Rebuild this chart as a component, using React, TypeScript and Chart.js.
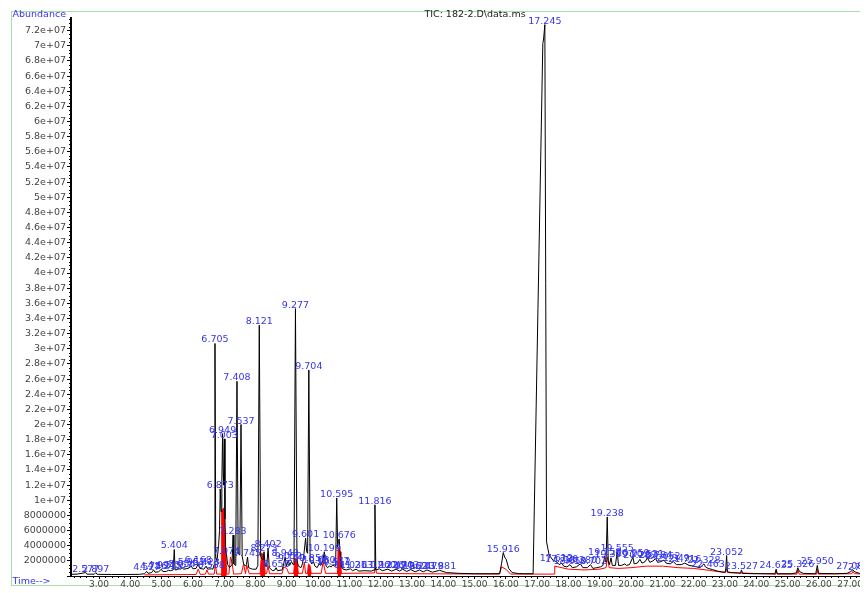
import React, { useEffect, useRef } from "react";
import { Chart, registerables } from "chart.js";

Chart.register(...registerables);

// ---- Data (retention time in minutes, abundance in counts) ----
const traceTime = [
  2.105, 2.3, 2.577, 2.62, 2.85, 2.897, 2.94, 3.4, 3.9, 4.3, 4.45, 4.527, 4.57, 4.68, 4.746, 4.79, 4.9, 4.994,
  5.04, 5.15, 5.215, 5.28, 5.37, 5.404, 5.43, 5.5, 5.557, 5.6, 5.654, 5.7, 5.85, 5.951, 6.0, 6.1, 6.168, 6.22,
  6.35, 6.423, 6.47, 6.588, 6.64, 6.68, 6.705, 6.73, 6.77, 6.82, 6.85, 6.873, 6.9, 6.925, 6.949, 6.97, 6.985,
  7.003, 7.025, 7.045, 7.074, 7.11, 7.17, 7.25, 7.283, 7.31, 7.35, 7.37, 7.408, 7.445, 7.48, 7.5, 7.537, 7.575,
  7.62, 7.68, 7.71, 7.745, 7.78, 7.9, 8.02, 8.075, 8.121, 8.165, 8.2, 8.24, 8.273, 8.31, 8.36, 8.402, 8.44,
  8.55, 8.62, 8.658, 8.7, 8.85, 8.9, 8.948, 8.99, 9.02, 9.052, 9.09, 9.15, 9.2, 9.23, 9.277, 9.325, 9.37,
  9.45, 9.5, 9.55, 9.601, 9.635, 9.665, 9.704, 9.745, 9.8, 9.85, 9.9, 9.97, 10.03, 10.09, 10.16, 10.199,
  10.235, 10.3, 10.36, 10.42, 10.477, 10.512, 10.56, 10.595, 10.625, 10.65, 10.676, 10.7, 10.74, 10.8, 10.9,
  11.036, 11.1, 11.213, 11.3, 11.5, 11.7, 11.79, 11.816, 11.845, 11.96, 12.05, 12.226, 12.35, 12.494, 12.6,
  12.703, 12.83, 12.962, 13.1, 13.241, 13.36, 13.479, 13.65, 13.881, 14.1, 14.5, 15.0, 15.5, 15.8, 15.86,
  15.916, 15.96, 16.01, 16.09, 16.2, 16.4, 16.6, 16.87, 17.18, 17.205, 17.245, 17.3, 17.38, 17.5, 17.612,
  17.7, 17.78, 17.85, 17.95, 18.05, 18.12, 18.25, 18.38, 18.46, 18.6, 18.702, 18.78, 18.9, 19.02, 19.1,
  19.158, 19.2, 19.238, 19.27, 19.31, 19.359, 19.4, 19.5, 19.555, 19.6, 19.7, 19.8, 19.85, 19.95, 20.059,
  20.1, 20.2, 20.283, 20.35, 20.45, 20.521, 20.6, 20.7, 20.784, 20.85, 20.95, 21.052, 21.12, 21.25, 21.349,
  21.45, 21.6, 21.716, 21.85, 22.0, 22.1, 22.2, 22.328, 22.38, 22.463, 22.6, 22.75, 22.9, 23.02, 23.052,
  23.08, 23.2, 23.4, 23.5, 23.527, 23.56, 23.9, 24.3, 24.6, 24.635, 24.67, 25.1, 25.28, 25.326, 25.38, 25.5,
  25.9, 25.95, 25.99, 26.5, 26.9, 27.0, 27.085, 27.15, 27.3, 27.465, 27.5, 27.6,
];

const traceAbundance = [
  0.22e6, 0.25e6, 0.45e6, 0.24e6, 0.24e6, 0.45e6, 0.22e6, 0.2e6, 0.2e6, 0.22e6, 0.3e6, 0.6e6, 0.35e6, 0.45e6, 0.8e6, 0.5e6, 0.55e6, 0.9e6,
  0.6e6, 0.6e6, 0.75e6, 0.7e6, 0.8e6, 3.5e6, 0.8e6, 0.85e6, 0.95e6, 0.9e6, 1.1e6, 0.9e6, 1.0e6, 1.3e6, 0.95e6, 1.0e6, 1.6e6, 1.0e6,
  0.9e6, 1.3e6, 0.9e6, 0.95e6, 0.9e6, 1.5e6, 30.7e6, 2.5e6, 2.0e6, 4.0e6, 6.0e6, 11.5e6, 8.5e6, 12.5e6, 18.8e6, 13.5e6, 12.0e6,
  18.1e6, 7.5e6, 3.5e6, 2.8e6, 1.5e6, 1.1e6, 1.5e6, 5.4e6, 1.6e6, 1.4e6, 3.0e6, 25.7e6, 3.2e6, 2.8e6, 3.5e6, 20.0e6, 2.6e6,
  1.6e6, 1.3e6, 1.5e6, 2.5e6, 1.1e6, 0.9e6, 0.9e6, 1.4e6, 33.1e6, 2.6e6, 2.3e6, 2.1e6, 3.2e6, 1.4e6, 1.3e6, 3.7e6, 1.1e6,
  0.7e6, 0.8e6, 1.1e6, 0.7e6, 0.8e6, 1.6e6, 2.5e6, 1.3e6, 1.7e6, 2.1e6, 1.4e6, 1.9e6, 1.5e6, 2.0e6, 35.3e6, 2.1e6, 1.3e6,
  1.1e6, 1.6e6, 3.0e6, 5.0e6, 3.2e6, 3.0e6, 27.2e6, 2.2e6, 1.6e6, 1.9e6, 1.3e6, 1.1e6, 1.6e6, 1.4e6, 2.2e6, 3.2e6,
  1.5e6, 1.1e6, 1.3e6, 1.2e6, 1.5e6, 1.3e6, 1.3e6, 10.3e6, 3.8e6, 4.6e6, 4.9e6, 3.2e6, 1.3e6, 0.9e6, 0.8e6,
  0.95e6, 0.7e6, 0.9e6, 0.65e6, 0.7e6, 0.65e6, 0.8e6, 9.4e6, 0.8e6, 0.95e6, 0.7e6, 0.9e6, 0.65e6, 0.9e6, 0.65e6,
  0.9e6, 0.6e6, 0.85e6, 0.55e6, 0.8e6, 0.55e6, 0.8e6, 0.5e6, 0.75e6, 0.45e6, 0.35e6, 0.3e6, 0.3e6, 0.32e6, 1.6e6,
  3.1e6, 2.5e6, 2.2e6, 1.0e6, 0.45e6, 0.32e6, 0.3e6, 0.3e6, 70.3e6, 70.9e6, 72.8e6, 4.5e6, 2.8e6, 2.1e6, 1.9e6,
  1.5e6, 1.7e6, 1.3e6, 1.2e6, 1.5e6, 1.1e6, 1.2e6, 1.6e6, 1.1e6, 1.1e6, 1.5e6, 1.0e6, 1.1e6, 1.2e6, 1.4e6,
  2.6e6, 1.8e6, 7.8e6, 2.0e6, 1.5e6, 2.4e6, 1.4e6, 1.4e6, 3.2e6, 1.4e6, 1.4e6, 1.6e6, 1.4e6, 1.5e6, 2.5e6,
  1.6e6, 1.7e6, 2.2e6, 1.7e6, 1.9e6, 2.4e6, 1.8e6, 2.0e6, 2.3e6, 1.8e6, 1.9e6, 2.1e6, 1.7e6, 1.6e6, 1.9e6,
  1.5e6, 1.5e6, 1.7e6, 1.4e6, 1.3e6, 1.2e6, 1.1e6, 1.6e6, 1.2e6, 1.0e6, 0.85e6, 0.65e6, 0.55e6, 0.5e6, 2.7e6,
  0.55e6, 0.45e6, 0.4e6, 0.38e6, 0.8e6, 0.35e6, 0.3e6, 0.3e6, 0.3e6, 0.9e6, 0.3e6, 0.3e6, 0.4e6, 1.1e6, 0.6e6, 0.35e6,
  0.3e6, 1.4e6, 0.35e6, 0.3e6, 0.35e6, 0.55e6, 0.8e6, 0.55e6, 0.35e6, 0.6e6, 0.3e6, 0.3e6,
];

// Integrated peak areas (red fill); null separates the areas
const redAreaTime = [
  6.9, 6.92, 6.99, 7.02, 7.08, 7.5, 8.15, 8.19, 8.27, 8.31, 8.8, 9.22, 9.26, 9.33, 9.37, 9.5, 9.66, 9.69, 9.74, 9.78,
  10.2, 10.62, 10.64, 10.7, 10.73,
];
const redAreaAbundance = [
  0.3e6, 8.5e6, 9.0e6, 6.0e6, 0.3e6, null, 0.3e6, 3.0e6, 2.8e6, 0.3e6, null, 0.3e6, 2.4e6, 2.0e6, 0.3e6, null,
  0.3e6, 1.6e6, 1.4e6, 0.3e6, null, 0.3e6, 3.8e6, 3.2e6, 0.3e6,
];

// Integration baseline (red line)
const redBaseTime = [
  4.45, 6.1, 6.17, 6.24, 6.4, 6.45, 6.5, 6.68, 6.72, 6.76, 7.15, 7.2, 7.25, 7.3, 7.55, 7.62, 7.68, 7.72, 7.8,
  8.35, 8.4, 8.45, 8.85, 8.9, 9.0, 9.06, 9.5, 9.56, 9.6, 10.1, 10.16, 10.24, 10.8, 11.8, 11.83, 11.87, 13.0,
  15.8, 15.86, 16.0, 16.15, 17.55, 17.56, 18.0, 18.5, 19.0, 19.2, 19.25, 19.3, 19.6, 20.0, 20.5, 21.0, 21.5,
  22.0, 22.5, 23.0, 23.04, 23.08, 24.6, 24.63, 24.67, 25.3, 25.33, 25.37, 25.93, 25.95, 25.98, 27.05, 27.09,
  27.14, 27.6,
];
const redBaseAbundance = [
  0.15e6, 0.2e6, 0.9e6, 0.2e6, 0.25e6, 0.8e6, 0.25e6, 0.25e6, 1.5e6, 0.25e6, 0.25e6, 2.5e6, 1.8e6, 0.25e6,
  0.3e6, 1.6e6, 0.3e6, 1.4e6, 0.3e6, 0.3e6, 1.3e6, 0.3e6, 0.3e6, 1.2e6, 1.0e6, 0.35e6, 0.35e6, 1.8e6, 0.35e6,
  0.35e6, 1.9e6, 0.35e6, 0.35e6, 0.4e6, 1.2e6, 0.35e6, 0.3e6, 0.25e6, 1.2e6, 0.9e6, 0.25e6, 0.25e6, 1.3e6,
  0.9e6, 0.8e6, 0.9e6, 1.1e6, 2.5e6, 1.1e6, 1.0e6, 1.1e6, 1.3e6, 1.3e6, 1.1e6, 1.0e6, 0.75e6, 0.45e6, 1.0e6,
  0.45e6, 0.25e6, 0.7e6, 0.25e6, 0.25e6, 0.8e6, 0.25e6, 0.25e6, 0.9e6, 0.25e6, 0.3e6, 0.6e6, 0.3e6, 0.25e6,
];

// Peak retention-time annotations
const peakLabels = [
  "2.577", "2.897", "4.527", "4.746", "4.994", "5.215", "5.404", "5.557", "5.654", "5.951", "6.168", "6.423",
  "6.588", "6.705", "6.873", "6.949", "7.003", "7.074", "7.283", "7.408", "7.537", "7.745", "8.121", "8.273",
  "8.402", "8.658", "8.948", "9.052", "9.150", "9.277", "9.601", "9.704", "9.850", "10.030", "10.199",
  "10.477", "10.512", "10.595", "10.676", "11.036", "11.213", "11.816", "11.960", "12.226", "12.494",
  "12.703", "12.962", "13.241", "13.479", "13.881", "15.916", "17.245", "17.612", "17.780", "18.050",
  "18.380", "18.702", "19.158", "19.238", "19.359", "19.555", "20.059", "20.283", "20.521", "20.784",
  "21.052", "21.349", "21.716", "22.328", "22.463", "23.052", "23.527", "24.635", "25.326", "25.950",
  "27.085", "27.465",
];

const xAxisMin = 2.105;
const xAxisMax = 27.57;
const xTickStep = 1;
const yAxisMax = 7.367e7;
const yTickStep = 2e6;
const chartTitle = "TIC: 182-2.D\\data.ms";
const yAxisTitle = "Abundance";
const xAxisTitle = "Time-->";

const FONT = '"DejaVu Sans", "Liberation Sans", sans-serif';
const BLUE = "#3434f0";

function formatAbundance(v: number): string {
  if (v === 0) return "";
  if (v < 1e7) return String(Math.round(v));
  const m = Math.round(v / 1e6) / 10;
  return `${m}e+07`;
}

// label sits on the trace point at its retention time
function labelHeight(t: number): number {
  let best = 0;
  let bestD = Infinity;
  for (let i = 0; i < traceTime.length; i++) {
    const d = Math.abs(traceTime[i] - t);
    if (d < bestD) {
      bestD = d;
      best = traceAbundance[i];
    }
  }
  return best;
}

const extrasPlugin = {
  id: "chromExtras",
  beforeDraw(chart: any) {
    const ctx = chart.ctx;
    ctx.save();
    ctx.fillStyle = "#ffffff";
    ctx.fillRect(0, 0, chart.width, chart.height);
    ctx.strokeStyle = "#a6e0a6";
    ctx.lineWidth = 1;
    ctx.strokeRect(3.5, 3.5, chart.width + 20, 574);
    ctx.restore();
  },
  afterDatasetsDraw(chart: any) {
    const ctx = chart.ctx;
    const xs = chart.scales.x;
    const ys = chart.scales.y;
    ctx.save();
    ctx.font = `9.5px ${FONT}`;
    ctx.fillStyle = BLUE;
    ctx.textAlign = "center";
    ctx.textBaseline = "alphabetic";
    for (const txt of peakLabels) {
      const t = parseFloat(txt);
      const x = xs.getPixelForValue(t);
      const y = ys.getPixelForValue(labelHeight(t)) - 1;
      ctx.fillText(txt, x, y);
    }
    ctx.restore();
  },
  afterDraw(chart: any) {
    const ctx = chart.ctx;
    const xs = chart.scales.x;
    const ys = chart.scales.y;
    const area = chart.chartArea;
    ctx.save();
    ctx.strokeStyle = "#000";
    ctx.lineWidth = 1;
    ctx.beginPath();
    // minor ticks on time axis every 0.2 min
    for (let k = Math.ceil(xAxisMin * 5); k <= Math.floor(xAxisMax * 5); k++) {
      if (k % 5 === 0) continue;
      const x = Math.round(xs.getPixelForValue(k / 5)) + 0.5;
      ctx.moveTo(x, area.bottom);
      ctx.lineTo(x, area.bottom + 2);
    }
    // minor ticks on abundance axis every 0.5e6
    for (let k = 1; k * 0.5e6 <= yAxisMax; k++) {
      if (k % 4 === 0) continue;
      const y = Math.round(ys.getPixelForValue(k * 0.5e6)) + 0.5;
      ctx.moveTo(area.left - 2, y);
      ctx.lineTo(area.left, y);
    }
    ctx.stroke();

    ctx.font = `9.5px ${FONT}`;
    ctx.textBaseline = "middle";
    ctx.textAlign = "left";
    ctx.fillStyle = BLUE;
    ctx.fillText(yAxisTitle, 4.5, 7);
    ctx.fillText(xAxisTitle, 4.5, 573.5);
    ctx.fillStyle = "#222";
    ctx.textAlign = "center";
    ctx.fillText(chartTitle, 467, 7);
    ctx.restore();
  },
};

export default function App() {
  const canvasRef = useRef<HTMLCanvasElement | null>(null);

  useEffect(() => {
    const canvas = canvasRef.current;
    if (!canvas) return;

    const tracePts = traceTime.map((t, i) => ({ x: t, y: traceAbundance[i] }));
    const areaPts = redAreaTime.map((t, i) => ({ x: t, y: redAreaAbundance[i] }));
    const basePts = redBaseTime.map((t, i) => ({ x: t, y: redBaseAbundance[i] }));

    const yTicks: { value: number }[] = [];
    for (let k = 0; k * yTickStep <= yAxisMax; k++) yTicks.push({ value: k * yTickStep });

    const chart = new Chart(canvas, {
      type: "line",
      data: {
        datasets: [
          {
            label: "TIC",
            data: tracePts,
            borderColor: "#000000",
            borderWidth: 1,
            borderJoinStyle: "bevel",
            pointRadius: 0,
            tension: 0,
            fill: false,
            order: 0,
          },
          {
            label: "Integrated area",
            data: areaPts as any,
            borderColor: "#ff0000",
            backgroundColor: "#ff0000",
            borderWidth: 1,
            pointRadius: 0,
            tension: 0,
            fill: "origin",
            spanGaps: false,
            order: 1,
          },
          {
            label: "Baseline",
            data: basePts,
            borderColor: "#ff0000",
            borderWidth: 1,
            pointRadius: 0,
            tension: 0,
            fill: false,
            order: 2,
          },
        ],
      },
      options: {
        animation: false,
        responsive: false,
        events: [],
        layout: { padding: { top: 10, left: 0, right: 0, bottom: 0 } },
        plugins: {
          legend: { display: false },
          tooltip: { enabled: false },
          title: { display: false },
        },
        scales: {
          x: {
            type: "linear",
            min: xAxisMin,
            max: xAxisMax,
            afterFit: (s: any) => {
              s.height = 17;
            },
            grid: { drawOnChartArea: false, drawTicks: true, tickLength: 3, color: "#000" },
            border: { display: true, color: "#000", width: 1 },
            ticks: {
              stepSize: xTickStep,
              includeBounds: false,
              autoSkip: false,
              maxRotation: 0,
              padding: 0,
              color: "#444",
              font: { family: FONT, size: 9 },
              callback: (v: any) => Number(v).toFixed(2),
            },
          },
          y: {
            type: "linear",
            min: 0,
            max: yAxisMax,
            afterFit: (s: any) => {
              s.width = 63;
            },
            afterBuildTicks: (s: any) => {
              s.ticks = yTicks.map((t) => ({ value: t.value }));
            },
            grid: { drawOnChartArea: false, drawTicks: true, tickLength: 4, color: "#000" },
            border: { display: true, color: "#000", width: 2 },
            ticks: {
              autoSkip: false,
              padding: 1,
              color: "#444",
              font: { family: FONT, size: 9.5 },
              callback: (v: any) => formatAbundance(Number(v)),
            },
          },
        },
      },
      plugins: [extrasPlugin],
    } as any);

    return () => chart.destroy();
  }, []);

  return (
    <div style={{ width: 860, height: 585, overflow: "hidden" }}>
      <canvas ref={canvasRef} width={860} height={585} style={{ display: "block" }} />
    </div>
  );
}
